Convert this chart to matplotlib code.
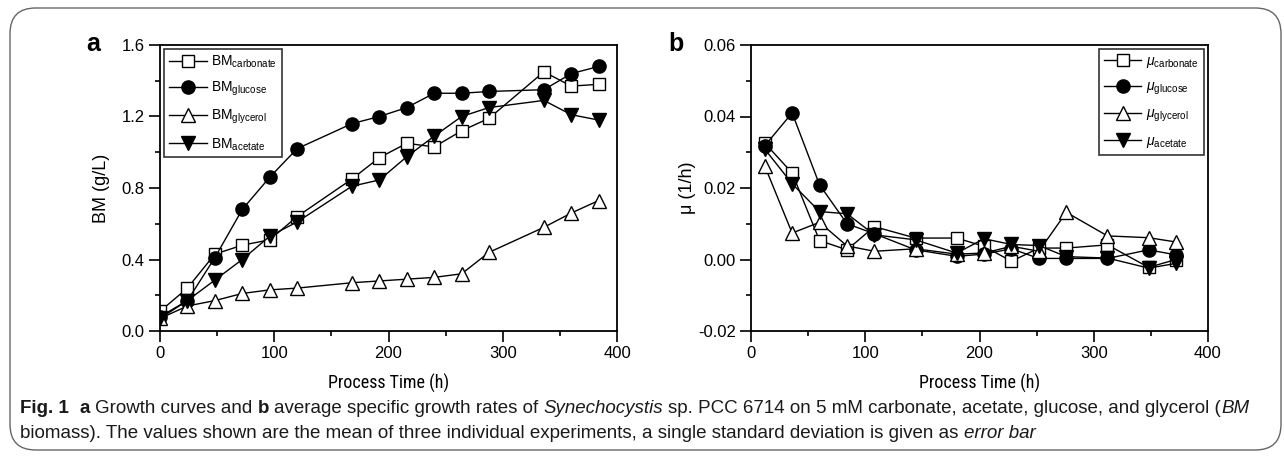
import matplotlib
matplotlib.use("Agg")
import matplotlib.pyplot as plt
from matplotlib.ticker import MultipleLocator, FormatStrFormatter
from matplotlib.patches import FancyBboxPatch
from matplotlib import font_manager

plt.rcParams['font.family'] = ['Liberation Sans', 'DejaVu Sans']
plt.rcParams['mathtext.fontset'] = 'custom'
plt.rcParams['mathtext.rm'] = 'Liberation Sans'
plt.rcParams['mathtext.it'] = 'Liberation Sans:italic'
plt.rcParams['axes.unicode_minus'] = False

# ---------------- data ----------------
t_bm = [0, 24, 48, 72, 96, 120, 168, 192, 216, 240, 264, 288, 336, 360, 384]
bm_carbonate = [0.11, 0.24, 0.43, 0.48, 0.51, 0.64, 0.85, 0.97, 1.05, 1.03, 1.12, 1.19, 1.45, 1.37, 1.38]
bm_glucose = [0.08, 0.17, 0.41, 0.68, 0.86, 1.02, 1.16, 1.20, 1.25, 1.33, 1.33, 1.34, 1.35, 1.44, 1.48]
bm_glycerol = [0.07, 0.14, 0.17, 0.21, 0.23, 0.24, 0.27, 0.28, 0.29, 0.30, 0.32, 0.44, 0.58, 0.66, 0.73]
bm_acetate = [0.07, 0.17, 0.285, 0.40, 0.53, 0.61, 0.81, 0.845, 0.975, 1.09, 1.20, 1.25, 1.29, 1.21, 1.18]

t_mu = [12, 36, 60, 84, 108, 144, 180, 204, 228, 252, 276, 312, 348, 372]
mu_carbonate = [0.0326, 0.0242, 0.0053, 0.0027, 0.0092, 0.0060, 0.0060, 0.0037, -0.0005, 0.0032, 0.0032, 0.0041, -0.0022, 0.0000]
mu_glucose = [0.0318, 0.0410, 0.0209, 0.0100, 0.0072, 0.0027, 0.0009, 0.0015, 0.0030, 0.0003, 0.0003, 0.0003, 0.0027, 0.0013]
mu_glycerol = [0.0262, 0.0074, 0.0104, 0.0038, 0.0023, 0.0030, 0.0015, 0.0018, 0.0037, 0.0023, 0.0132, 0.0066, 0.0061, 0.0049]
mu_acetate = [0.0309, 0.0212, 0.0134, 0.0128, 0.0069, 0.0055, 0.0018, 0.0058, 0.0042, 0.0039, 0.0008, 0.0004, -0.0024, -0.0011]

substrates = ['carbonate', 'glucose', 'glycerol', 'acetate']
styles = {
    'carbonate': dict(marker='s', mfc='white', ms=8),
    'glucose': dict(marker='o', mfc='black', ms=9.5),
    'glycerol': dict(marker='^', mfc='white', ms=9.5),
    'acetate': dict(marker='v', mfc='black', ms=9.5),
}

# pick a condensed family for horizontal labels if one is installed
installed = {f.name for f in font_manager.fontManager.ttflist}
narrow = None
for cand in ['Liberation Sans Narrow', 'Roboto Condensed', 'Open Sans Condensed',
             'Arial Narrow', 'DejaVu Sans Condensed']:
    if cand in installed:
        narrow = cand
        break
xlabel_family = [narrow, 'Liberation Sans', 'DejaVu Sans'] if narrow else ['Liberation Sans', 'DejaVu Sans']
xlabel_size = 13 if narrow else 11.5

W, H = 1284, 463
fig = plt.figure(figsize=(W / 100, H / 100), dpi=100)

# border frame
frame = FancyBboxPatch((10 / W, 13 / H), 1271 / W, 442 / H,
                       boxstyle="round,pad=0,rounding_size=0.02",
                       transform=fig.transFigure, fill=False,
                       edgecolor='#666666', linewidth=1.0, mutation_aspect=W / H)
fig.patches.append(frame)


def make_ax(left_px, ylabel, ypad, letter, letter_x):
    ax = fig.add_axes([left_px / W, (H - 331) / H, 457 / W, 286 / H])
    for s in ax.spines.values():
        s.set_linewidth(1.3)
    ax.tick_params(which='major', direction='out', length=8, width=1.2,
                   labelsize=12, pad=3)
    ax.tick_params(which='minor', direction='out', length=3.8, width=1.2)
    ax.set_xlabel('Process Time (h)', fontsize=xlabel_size, family=xlabel_family,
                  labelpad=9)
    ax.set_ylabel(ylabel, fontsize=13, labelpad=ypad)
    fig.text(letter_x / W, (H - 44) / H, letter, fontsize=18, fontweight='bold',
             ha='center', va='center')
    return ax


# ---------- panel a ----------
axa = make_ax(160, 'BM (g/L)', 8, 'a', 93)
bm_data = {'carbonate': bm_carbonate, 'glucose': bm_glucose,
           'glycerol': bm_glycerol, 'acetate': bm_acetate}
for s in substrates:
    axa.plot(t_bm, bm_data[s], color='black', lw=1.0, mec='black', mew=1.0,
             label=r'BM$_{\mathregular{' + s + '}}$', **styles[s])
axa.set_xlim(0, 400)
axa.set_ylim(0.0, 1.6)
axa.xaxis.set_major_locator(MultipleLocator(100))
axa.xaxis.set_minor_locator(MultipleLocator(50))
axa.yaxis.set_major_locator(MultipleLocator(0.4))
axa.yaxis.set_minor_locator(MultipleLocator(0.2))
axa.yaxis.set_major_formatter(FormatStrFormatter('%.1f'))
lega = axa.legend(loc='upper left', fontsize=10, frameon=True, fancybox=False,
                  edgecolor='black', handlelength=2.7, handletextpad=0.35,
                  labelspacing=0.7, borderpad=0.35, borderaxespad=0.3)
lega.get_frame().set_linewidth(1.2)

# ---------- panel b ----------
axb = make_ax(751, 'μ (1/h)', 1, 'b', 676)
mu_data = {'carbonate': mu_carbonate, 'glucose': mu_glucose,
           'glycerol': mu_glycerol, 'acetate': mu_acetate}
for s in substrates:
    axb.plot(t_mu, mu_data[s], color='black', lw=1.0, mec='black', mew=1.0,
             label=r'$\mu_{\mathregular{' + s + '}}$', **styles[s])
axb.set_xlim(0, 400)
axb.set_ylim(-0.02, 0.06)
axb.xaxis.set_major_locator(MultipleLocator(100))
axb.xaxis.set_minor_locator(MultipleLocator(50))
axb.yaxis.set_major_locator(MultipleLocator(0.02))
axb.yaxis.set_minor_locator(MultipleLocator(0.01))
axb.yaxis.set_major_formatter(FormatStrFormatter('%.2f'))
legb = axb.legend(loc='upper right', fontsize=10, frameon=True, fancybox=False,
                  edgecolor='black', handlelength=2.7, handletextpad=0.35,
                  labelspacing=0.7, borderpad=0.35, borderaxespad=0.3)
legb.get_frame().set_linewidth(1.2)

# ---------- caption ----------
cap_family = ['Liberation Sans', 'DejaVu Sans']
renderer = fig.canvas.get_renderer()

N, B, I = ('normal', 'normal'), ('bold', 'normal'), ('normal', 'italic')
line1 = [
    ('Fig. 1', *B, 2), ('a', *B, 1), ('Growth curves and', *N, 1), ('b', *B, 1),
    ('average specific growth rates of', *N, 1), ('Synechocystis', *I, 1),
    ('sp. PCC 6714 on 5 mM carbonate, acetate, glucose, and glycerol (', *N, 0),
    ('BM', *I, 0),
]
line2 = [
    ('biomass). The values shown are the mean of three individual experiments, '
     'a single standard deviation is given as', *N, 1),
    ('error bar', *I, 0),
]


def width_px(txt, size, weight='normal', style='normal'):
    t = fig.text(0, 0, txt, fontsize=size, family=cap_family,
                 fontweight=weight, fontstyle=style)
    w = t.get_window_extent(renderer=renderer).width
    t.remove()
    return w


def line_width(parts, size):
    sp = width_px('a a', size) - width_px('aa', size)
    return sum(width_px(t, size, w, s) + g * sp for t, w, s, g in parts)


# scale caption so its first line spans the same width as in the reference
base = 10.0
cap_size = base * 1233.0 / line_width(line1, base)
cap_size = max(9.0, min(cap_size, 14.0))
space_w = width_px('a a', cap_size) - width_px('aa', cap_size)


def rich_line(x_px, y_px, parts):
    x = x_px
    for txt, weight, style, gap in parts:
        t = fig.text(x / W, (H - y_px) / H, txt, fontsize=cap_size,
                     family=cap_family, fontweight=weight, fontstyle=style,
                     ha='left', va='baseline', color='#1a1a1a')
        x += t.get_window_extent(renderer=renderer).width + gap * space_w


rich_line(20, 413, line1)
rich_line(20, 438, line2)

fig.savefig('out.png', dpi=100)
